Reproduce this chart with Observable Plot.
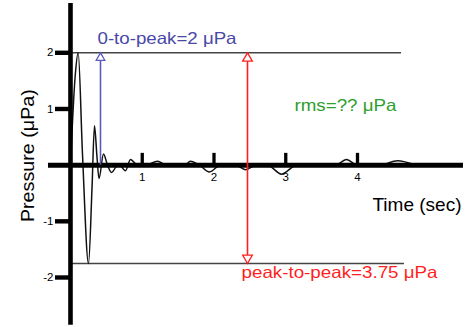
<!DOCTYPE html>
<html>
<head>
<meta charset="utf-8">
<script src="https://cdn.jsdelivr.net/npm/d3@7"></script>
<script src="https://cdn.jsdelivr.net/npm/@observablehq/plot@0.6"></script>
<style>
  html, body { margin: 0; padding: 0; background: #fff; }
  #chart svg { display: block; }
</style>
</head>
<body>
<div id="chart"></div>
<script>
// ---- data ----
const time = [0, 0.066, 0.107, 0.167, 0.251, 0.3, 0.334, 0.369, 0.397, 0.46, 0.516, 0.571, 0.669, 0.767, 0.836, 0.934,
  1.045, 1.213, 1.338, 1.589, 1.672, 1.798, 1.937, 2.09, 2.3, 2.439, 2.592, 2.746, 2.941, 3.15,
  3.693, 3.846, 4.0, 4.307, 4.557, 4.808];
const pressure = [0, 1.6, 2.0, 0.2, -1.75, -0.4, 0.7, 0.15, -0.24, 0.2, 0.0, -0.13, 0.02, -0.1, 0.1, 0,
  0, 0.07, 0, 0, 0.07, 0, -0.12, 0, 0, -0.08, 0, 0, -0.16, 0,
  0, 0.1, 0, 0, 0.08, 0];
const xTicks = [1, 2, 3, 4];
const yTicks = [-2, -1, 1, 2];
const zeroToPeak = 2;
const peakTop = 2;
const peakBottom = -1.75;
const labelZeroToPeak = "0-to-peak=2 μPa";
const labelRms = "rms=?? μPa";
const labelPeakToPeak = "peak-to-peak=3.75 μPa";
const labelX = "Time (sec)";
const labelY = "Pressure (μPa)";

const wave = time.map((t, i) => ({t, p: pressure[i]}));

const blue = "#5a5abf", blueText = "#4848a8", red = "#ff1f1f", green = "#2e9e2e";
const font = "Liberation Sans, Arial, Helvetica, sans-serif";
const triDown = {draw(ctx, size) {
  const y = -Math.sqrt(size / (Math.sqrt(3) * 3));
  ctx.moveTo(0, -y * 2); ctx.lineTo(-Math.sqrt(3) * y, y); ctx.lineTo(Math.sqrt(3) * y, y); ctx.closePath();
}};
const blueX = 0.418, redX = 2.467;

const chart = Plot.plot({
  width: 468, height: 327,
  marginLeft: 70, marginTop: 0, marginRight: 0, marginBottom: 0,
  style: {fontFamily: font, background: "#fff", color: "#000"},
  x: {domain: [0, 4], range: [70, 357], axis: null},
  y: {domain: [-2, 2], range: [277, 52.3], axis: null},
  marks: [
    Plot.ruleY([peakTop], {x1: 0, x2: 4.613, stroke: "#444", strokeWidth: 1.6}),
    Plot.ruleY([peakBottom], {x1: 0, x2: 4.655, stroke: "#444", strokeWidth: 1.6}),
    Plot.line(wave, {x: "t", y: "p", curve: "monotone-x", stroke: "#111", strokeWidth: 1.5}),
    Plot.ruleY([0], {x1: -0.307, x2: 5.477, stroke: "#000", strokeWidth: 5}),
    Plot.ruleX([0], {y1: -2.85, y2: 2.877, stroke: "#000", strokeWidth: 4.6}),
    Plot.ruleX(xTicks, {x: d => d, y1: 0, y2: 0.21, stroke: "#000", strokeWidth: 3.3}),
    Plot.text(xTicks, {x: d => d, y: 0, dy: 12.5, text: d => String(d), fontSize: 11.5, fill: "#000"}),
    Plot.axisY(yTicks, {tickSize: 15, tickPadding: 2, strokeWidth: 4.4, fontSize: 11.5, tickFormat: d => String(d), label: null}),
    // 0-to-peak arrow
    Plot.ruleX([blueX], {y1: 0, y2: zeroToPeak, stroke: blue, strokeWidth: 1.6}),
    Plot.dot([blueX], {x: d => d, y: zeroToPeak, symbol: "triangle", r: 3.2, dy: 5, fill: "#fff", stroke: blue, strokeWidth: 1.3}),
    // peak-to-peak arrow
    Plot.ruleX([redX], {y1: peakBottom, y2: peakTop, stroke: red, strokeWidth: 1.6}),
    Plot.dot([redX], {x: d => d, y: peakTop, symbol: "triangle", r: 3.6, dy: 5.6, fill: "#fff", stroke: red, strokeWidth: 1.3}),
    Plot.dot([redX], {x: d => d, y: peakBottom, symbol: triDown, r: 3.6, dy: -5.6, fill: "#fff", stroke: red, strokeWidth: 1.3}),
    // annotations
    Plot.text([labelZeroToPeak], {x: blueX, y: zeroToPeak, dx: -3, dy: -14, text: d => d, textAnchor: "start", fill: blueText, fontSize: 16.5}),
    Plot.text([labelRms], {x: 3.122, y: 1.06, text: d => d, textAnchor: "start", fill: green, fontSize: 16.5}),
    Plot.text([labelPeakToPeak], {x: redX, y: peakBottom, dx: -6, dy: 9, text: d => d, textAnchor: "start", fill: red, fontSize: 16.5}),
    Plot.text([labelX], {x: 5.449, y: -0.71, text: d => d, textAnchor: "end", fill: "#000", fontSize: 19}),
    Plot.text([labelY], {x: 0, y: 0.17, dx: -43, rotate: -90, text: d => d, fill: "#000", fontSize: 19})
  ]
});

const lengths = new Map([[labelZeroToPeak, 139], [labelRms, 102], [labelPeakToPeak, 196], [labelX, 89], [labelY, 133]]);
d3.select(chart).selectAll("text").each(function() {
  const w = lengths.get(this.textContent);
  if (w) { this.setAttribute("textLength", w); this.setAttribute("lengthAdjust", "spacingAndGlyphs"); }
});
document.getElementById("chart").appendChild(chart);
</script>
</body>
</html>
